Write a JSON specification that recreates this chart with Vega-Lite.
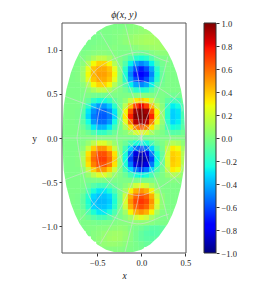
{"$schema":"https://vega.github.io/schema/vega-lite/v6.json","background":"white","padding":{"left":31,"top":9,"right":0,"bottom":0},"spacing":12,"config":{"view":{"stroke":null},"axis":{"labelFont":"Liberation Serif","titleFont":"Liberation Serif","labelFontSize":8.5,"titleFontSize":9.5,"titleFontWeight":"normal","labelColor":"#222","titleColor":"#222","tickColor":"#333","domain":false,"grid":false,"tickSize":3,"labelPadding":2}},"datasets":{"cells":[
{"x":-0.42,"y":1.26,"v":0.03},{"x":-0.36,"y":1.26,"v":0.03},{"x":-0.3,"y":1.26,"v":0.03},{"x":-0.24,"y":1.26,"v":0.03},{"x":-0.18,"y":1.26,"v":0.04},{"x":-0.12,"y":1.26,"v":0.05},{"x":-0.06,"y":1.26,"v":0.06},{"x":0,"y":1.26,"v":0.07},
{"x":-0.48,"y":1.2,"v":0.02},{"x":-0.42,"y":1.2,"v":0.03},{"x":-0.36,"y":1.2,"v":0.03},{"x":-0.3,"y":1.2,"v":0.04},{"x":-0.24,"y":1.2,"v":0.04},{"x":-0.18,"y":1.2,"v":0.05},{"x":-0.12,"y":1.2,"v":0.06},{"x":-0.06,"y":1.2,"v":0.07},{"x":0,"y":1.2,"v":0.08},{"x":0.06,"y":1.2,"v":0.09},{"x":0.12,"y":1.2,"v":0.09},
{"x":-0.54,"y":1.14,"v":0.02},{"x":-0.48,"y":1.14,"v":0.02},{"x":-0.42,"y":1.14,"v":0.03},{"x":-0.36,"y":1.14,"v":0.03},{"x":-0.3,"y":1.14,"v":0.04},{"x":-0.24,"y":1.14,"v":0.05},{"x":-0.18,"y":1.14,"v":0.06},{"x":-0.12,"y":1.14,"v":0.08},{"x":-0.06,"y":1.14,"v":0.1},{"x":0,"y":1.14,"v":0.11},{"x":0.06,"y":1.14,"v":0.12},{"x":0.12,"y":1.14,"v":0.12},{"x":0.18,"y":1.14,"v":0.11},
{"x":-0.6,"y":1.08,"v":0.02},{"x":-0.54,"y":1.08,"v":0.02},{"x":-0.48,"y":1.08,"v":0.03},{"x":-0.42,"y":1.08,"v":0.03},{"x":-0.36,"y":1.08,"v":0.03},{"x":-0.3,"y":1.08,"v":0.04},{"x":-0.24,"y":1.08,"v":0.05},{"x":-0.18,"y":1.08,"v":0.07},{"x":-0.12,"y":1.08,"v":0.09},{"x":-0.06,"y":1.08,"v":0.11},{"x":0,"y":1.08,"v":0.12},{"x":0.06,"y":1.08,"v":0.13},{"x":0.12,"y":1.08,"v":0.13},{"x":0.18,"y":1.08,"v":0.12},{"x":0.24,"y":1.08,"v":0.1},
{"x":-0.66,"y":1.02,"v":0.02},{"x":-0.6,"y":1.02,"v":0.02},{"x":-0.54,"y":1.02,"v":0.03},{"x":-0.48,"y":1.02,"v":0.04},{"x":-0.42,"y":1.02,"v":0.04},{"x":-0.36,"y":1.02,"v":0.04},{"x":-0.3,"y":1.02,"v":0.05},{"x":-0.24,"y":1.02,"v":0.04},{"x":-0.18,"y":1.02,"v":0.04},{"x":-0.12,"y":1.02,"v":0.05},{"x":-0.06,"y":1.02,"v":0.06},{"x":0,"y":1.02,"v":0.08},{"x":0.06,"y":1.02,"v":0.09},{"x":0.12,"y":1.02,"v":0.1},{"x":0.18,"y":1.02,"v":0.11},{"x":0.24,"y":1.02,"v":0.11},{"x":0.3,"y":1.02,"v":0.1},
{"x":-0.72,"y":0.96,"v":0.03},{"x":-0.66,"y":0.96,"v":0.03},{"x":-0.6,"y":0.96,"v":0.04},{"x":-0.54,"y":0.96,"v":0.05},{"x":-0.48,"y":0.96,"v":0.06},{"x":-0.42,"y":0.96,"v":0.06},{"x":-0.36,"y":0.96,"v":0.05},{"x":-0.3,"y":0.96,"v":0.04},{"x":-0.24,"y":0.96,"v":0.03},{"x":-0.18,"y":0.96,"v":0.03},{"x":-0.12,"y":0.96,"v":0.02},{"x":-0.06,"y":0.96,"v":0},{"x":0,"y":0.96,"v":-0.01},{"x":0.06,"y":0.96,"v":0.01},{"x":0.12,"y":0.96,"v":0.04},{"x":0.18,"y":0.96,"v":0.06},{"x":0.24,"y":0.96,"v":0.07},{"x":0.3,"y":0.96,"v":0.07},
{"x":-0.72,"y":0.9,"v":0.03},{"x":-0.66,"y":0.9,"v":0.04},{"x":-0.6,"y":0.9,"v":0.07},{"x":-0.54,"y":0.9,"v":0.13},{"x":-0.48,"y":0.9,"v":0.18},{"x":-0.42,"y":0.9,"v":0.18},{"x":-0.36,"y":0.9,"v":0.13},{"x":-0.3,"y":0.9,"v":0.07},{"x":-0.24,"y":0.9,"v":0.04},{"x":-0.18,"y":0.9,"v":0},{"x":-0.12,"y":0.9,"v":-0.07},{"x":-0.06,"y":0.9,"v":-0.17},{"x":0,"y":0.9,"v":-0.21},{"x":0.06,"y":0.9,"v":-0.17},{"x":0.12,"y":0.9,"v":-0.07},{"x":0.18,"y":0.9,"v":0},{"x":0.24,"y":0.9,"v":0.03},{"x":0.3,"y":0.9,"v":0.04},{"x":0.36,"y":0.9,"v":0.04},
{"x":-0.78,"y":0.84,"v":0.03},{"x":-0.72,"y":0.84,"v":0.03},{"x":-0.66,"y":0.84,"v":0.06},{"x":-0.6,"y":0.84,"v":0.15},{"x":-0.54,"y":0.84,"v":0.29},{"x":-0.48,"y":0.84,"v":0.39},{"x":-0.42,"y":0.84,"v":0.39},{"x":-0.36,"y":0.84,"v":0.29},{"x":-0.3,"y":0.84,"v":0.15},{"x":-0.24,"y":0.84,"v":0.04},{"x":-0.18,"y":0.84,"v":-0.07},{"x":-0.12,"y":0.84,"v":-0.27},{"x":-0.06,"y":0.84,"v":-0.48},{"x":0,"y":0.84,"v":-0.56},{"x":0.06,"y":0.84,"v":-0.48},{"x":0.12,"y":0.84,"v":-0.27},{"x":0.18,"y":0.84,"v":-0.07},{"x":0.24,"y":0.84,"v":0.01},{"x":0.3,"y":0.84,"v":0.03},{"x":0.36,"y":0.84,"v":0.03},
{"x":-0.78,"y":0.78,"v":0.03},{"x":-0.72,"y":0.78,"v":0.04},{"x":-0.66,"y":0.78,"v":0.1},{"x":-0.6,"y":0.78,"v":0.26},{"x":-0.54,"y":0.78,"v":0.43},{"x":-0.48,"y":0.78,"v":0.5},{"x":-0.42,"y":0.78,"v":0.5},{"x":-0.36,"y":0.78,"v":0.43},{"x":-0.3,"y":0.78,"v":0.26},{"x":-0.24,"y":0.78,"v":0.06},{"x":-0.18,"y":0.78,"v":-0.16},{"x":-0.12,"y":0.78,"v":-0.48},{"x":-0.06,"y":0.78,"v":-0.68},{"x":0,"y":0.78,"v":-0.74},{"x":0.06,"y":0.78,"v":-0.68},{"x":0.12,"y":0.78,"v":-0.48},{"x":0.18,"y":0.78,"v":-0.17},{"x":0.24,"y":0.78,"v":-0.01},{"x":0.3,"y":0.78,"v":0.03},{"x":0.36,"y":0.78,"v":0.03},{"x":0.42,"y":0.78,"v":0.03},
{"x":-0.78,"y":0.72,"v":0.03},{"x":-0.72,"y":0.72,"v":0.04},{"x":-0.66,"y":0.72,"v":0.11},{"x":-0.6,"y":0.72,"v":0.29},{"x":-0.54,"y":0.72,"v":0.47},{"x":-0.48,"y":0.72,"v":0.53},{"x":-0.42,"y":0.72,"v":0.53},{"x":-0.36,"y":0.72,"v":0.47},{"x":-0.3,"y":0.72,"v":0.29},{"x":-0.24,"y":0.72,"v":0.06},{"x":-0.18,"y":0.72,"v":-0.2},{"x":-0.12,"y":0.72,"v":-0.56},{"x":-0.06,"y":0.72,"v":-0.74},{"x":0,"y":0.72,"v":-0.77},{"x":0.06,"y":0.72,"v":-0.74},{"x":0.12,"y":0.72,"v":-0.56},{"x":0.18,"y":0.72,"v":-0.21},{"x":0.24,"y":0.72,"v":-0.02},{"x":0.3,"y":0.72,"v":0.03},{"x":0.36,"y":0.72,"v":0.03},{"x":0.42,"y":0.72,"v":0.03},
{"x":-0.84,"y":0.66,"v":0.03},{"x":-0.78,"y":0.66,"v":0.03},{"x":-0.72,"y":0.66,"v":0.04},{"x":-0.66,"y":0.66,"v":0.1},{"x":-0.6,"y":0.66,"v":0.26},{"x":-0.54,"y":0.66,"v":0.43},{"x":-0.48,"y":0.66,"v":0.5},{"x":-0.42,"y":0.66,"v":0.5},{"x":-0.36,"y":0.66,"v":0.43},{"x":-0.3,"y":0.66,"v":0.26},{"x":-0.24,"y":0.66,"v":0.06},{"x":-0.18,"y":0.66,"v":-0.16},{"x":-0.12,"y":0.66,"v":-0.48},{"x":-0.06,"y":0.66,"v":-0.68},{"x":0,"y":0.66,"v":-0.74},{"x":0.06,"y":0.66,"v":-0.68},{"x":0.12,"y":0.66,"v":-0.48},{"x":0.18,"y":0.66,"v":-0.17},{"x":0.24,"y":0.66,"v":-0.01},{"x":0.3,"y":0.66,"v":0.03},{"x":0.36,"y":0.66,"v":0.03},{"x":0.42,"y":0.66,"v":0.03},
{"x":-0.84,"y":0.6,"v":0.03},{"x":-0.78,"y":0.6,"v":0.03},{"x":-0.72,"y":0.6,"v":0.03},{"x":-0.66,"y":0.6,"v":0.06},{"x":-0.6,"y":0.6,"v":0.15},{"x":-0.54,"y":0.6,"v":0.29},{"x":-0.48,"y":0.6,"v":0.39},{"x":-0.42,"y":0.6,"v":0.39},{"x":-0.36,"y":0.6,"v":0.29},{"x":-0.3,"y":0.6,"v":0.15},{"x":-0.24,"y":0.6,"v":0.04},{"x":-0.18,"y":0.6,"v":-0.07},{"x":-0.12,"y":0.6,"v":-0.27},{"x":-0.06,"y":0.6,"v":-0.48},{"x":0,"y":0.6,"v":-0.56},{"x":0.06,"y":0.6,"v":-0.48},{"x":0.12,"y":0.6,"v":-0.27},{"x":0.18,"y":0.6,"v":-0.07},{"x":0.24,"y":0.6,"v":0.01},{"x":0.3,"y":0.6,"v":0.03},{"x":0.36,"y":0.6,"v":0.03},{"x":0.42,"y":0.6,"v":0.03},
{"x":-0.84,"y":0.54,"v":0.03},{"x":-0.78,"y":0.54,"v":0.03},{"x":-0.72,"y":0.54,"v":0.03},{"x":-0.66,"y":0.54,"v":0.04},{"x":-0.6,"y":0.54,"v":0.07},{"x":-0.54,"y":0.54,"v":0.13},{"x":-0.48,"y":0.54,"v":0.18},{"x":-0.42,"y":0.54,"v":0.18},{"x":-0.36,"y":0.54,"v":0.13},{"x":-0.3,"y":0.54,"v":0.07},{"x":-0.24,"y":0.54,"v":0.04},{"x":-0.18,"y":0.54,"v":0},{"x":-0.12,"y":0.54,"v":-0.07},{"x":-0.06,"y":0.54,"v":-0.17},{"x":0,"y":0.54,"v":-0.21},{"x":0.06,"y":0.54,"v":-0.17},{"x":0.12,"y":0.54,"v":-0.07},{"x":0.18,"y":0.54,"v":0},{"x":0.24,"y":0.54,"v":0.03},{"x":0.3,"y":0.54,"v":0.03},{"x":0.36,"y":0.54,"v":0.03},{"x":0.42,"y":0.54,"v":0.03},{"x":0.48,"y":0.54,"v":0.03},
{"x":-0.84,"y":0.48,"v":0.03},{"x":-0.78,"y":0.48,"v":0.03},{"x":-0.72,"y":0.48,"v":0.03},{"x":-0.66,"y":0.48,"v":0.03},{"x":-0.6,"y":0.48,"v":0.03},{"x":-0.54,"y":0.48,"v":0.01},{"x":-0.48,"y":0.48,"v":0},{"x":-0.42,"y":0.48,"v":0},{"x":-0.36,"y":0.48,"v":0.01},{"x":-0.3,"y":0.48,"v":0.03},{"x":-0.24,"y":0.48,"v":0.03},{"x":-0.18,"y":0.48,"v":0.03},{"x":-0.12,"y":0.48,"v":0.04},{"x":-0.06,"y":0.48,"v":0.05},{"x":0,"y":0.48,"v":0.06},{"x":0.06,"y":0.48,"v":0.05},{"x":0.12,"y":0.48,"v":0.04},{"x":0.18,"y":0.48,"v":0.03},{"x":0.24,"y":0.48,"v":0.03},{"x":0.3,"y":0.48,"v":0.01},{"x":0.36,"y":0.48,"v":0},{"x":0.42,"y":0.48,"v":0},{"x":0.48,"y":0.48,"v":0.02},
{"x":-0.9,"y":0.42,"v":0.03},{"x":-0.84,"y":0.42,"v":0.03},{"x":-0.78,"y":0.42,"v":0.03},{"x":-0.72,"y":0.42,"v":0.03},{"x":-0.66,"y":0.42,"v":0.02},{"x":-0.6,"y":0.42,"v":-0.03},{"x":-0.54,"y":0.42,"v":-0.14},{"x":-0.48,"y":0.42,"v":-0.22},{"x":-0.42,"y":0.42,"v":-0.22},{"x":-0.36,"y":0.42,"v":-0.14},{"x":-0.3,"y":0.42,"v":-0.03},{"x":-0.24,"y":0.42,"v":0.02},{"x":-0.18,"y":0.42,"v":0.08},{"x":-0.12,"y":0.42,"v":0.19},{"x":-0.06,"y":0.42,"v":0.33},{"x":0,"y":0.42,"v":0.4},{"x":0.06,"y":0.42,"v":0.33},{"x":0.12,"y":0.42,"v":0.19},{"x":0.18,"y":0.42,"v":0.08},{"x":0.24,"y":0.42,"v":0.03},{"x":0.3,"y":0.42,"v":-0.04},{"x":0.36,"y":0.42,"v":-0.11},{"x":0.42,"y":0.42,"v":-0.1},{"x":0.48,"y":0.42,"v":-0.01},
{"x":-0.9,"y":0.36,"v":0.03},{"x":-0.84,"y":0.36,"v":0.03},{"x":-0.78,"y":0.36,"v":0.03},{"x":-0.72,"y":0.36,"v":0.03},{"x":-0.66,"y":0.36,"v":-0.02},{"x":-0.6,"y":0.36,"v":-0.16},{"x":-0.54,"y":0.36,"v":-0.38},{"x":-0.48,"y":0.36,"v":-0.51},{"x":-0.42,"y":0.36,"v":-0.51},{"x":-0.36,"y":0.36,"v":-0.38},{"x":-0.3,"y":0.36,"v":-0.16},{"x":-0.24,"y":0.36,"v":0.01},{"x":-0.18,"y":0.36,"v":0.17},{"x":-0.12,"y":0.36,"v":0.45},{"x":-0.06,"y":0.36,"v":0.74},{"x":0,"y":0.36,"v":0.82},{"x":0.06,"y":0.36,"v":0.74},{"x":0.12,"y":0.36,"v":0.45},{"x":0.18,"y":0.36,"v":0.17},{"x":0.24,"y":0.36,"v":0.06},{"x":0.3,"y":0.36,"v":-0.13},{"x":0.36,"y":0.36,"v":-0.28},{"x":0.42,"y":0.36,"v":-0.24},{"x":0.48,"y":0.36,"v":-0.07},
{"x":-0.9,"y":0.3,"v":0.03},{"x":-0.84,"y":0.3,"v":0.03},{"x":-0.78,"y":0.3,"v":0.03},{"x":-0.72,"y":0.3,"v":0.02},{"x":-0.66,"y":0.3,"v":-0.06},{"x":-0.6,"y":0.3,"v":-0.29},{"x":-0.54,"y":0.3,"v":-0.54},{"x":-0.48,"y":0.3,"v":-0.64},{"x":-0.42,"y":0.3,"v":-0.64},{"x":-0.36,"y":0.3,"v":-0.54},{"x":-0.3,"y":0.3,"v":-0.29},{"x":-0.24,"y":0.3,"v":-0.01},{"x":-0.18,"y":0.3,"v":0.29},{"x":-0.12,"y":0.3,"v":0.7},{"x":-0.06,"y":0.3,"v":0.94},{"x":0,"y":0.3,"v":1},{"x":0.06,"y":0.3,"v":0.94},{"x":0.12,"y":0.3,"v":0.7},{"x":0.18,"y":0.3,"v":0.3},{"x":0.24,"y":0.3,"v":0.08},{"x":0.3,"y":0.3,"v":-0.16},{"x":0.36,"y":0.3,"v":-0.35},{"x":0.42,"y":0.3,"v":-0.3},{"x":0.48,"y":0.3,"v":-0.09},
{"x":-0.9,"y":0.24,"v":0.03},{"x":-0.84,"y":0.24,"v":0.03},{"x":-0.78,"y":0.24,"v":0.03},{"x":-0.72,"y":0.24,"v":0.02},{"x":-0.66,"y":0.24,"v":-0.08},{"x":-0.6,"y":0.24,"v":-0.33},{"x":-0.54,"y":0.24,"v":-0.59},{"x":-0.48,"y":0.24,"v":-0.66},{"x":-0.42,"y":0.24,"v":-0.66},{"x":-0.36,"y":0.24,"v":-0.59},{"x":-0.3,"y":0.24,"v":-0.33},{"x":-0.24,"y":0.24,"v":-0.02},{"x":-0.18,"y":0.24,"v":0.32},{"x":-0.12,"y":0.24,"v":0.77},{"x":-0.06,"y":0.24,"v":0.99},{"x":0,"y":0.24,"v":1},{"x":0.06,"y":0.24,"v":0.99},{"x":0.12,"y":0.24,"v":0.77},{"x":0.18,"y":0.24,"v":0.33},{"x":0.24,"y":0.24,"v":0.09},{"x":0.3,"y":0.24,"v":-0.17},{"x":0.36,"y":0.24,"v":-0.36},{"x":0.42,"y":0.24,"v":-0.31},{"x":0.48,"y":0.24,"v":-0.09},
{"x":-0.9,"y":0.18,"v":0.03},{"x":-0.84,"y":0.18,"v":0.03},{"x":-0.78,"y":0.18,"v":0.03},{"x":-0.72,"y":0.18,"v":0.02},{"x":-0.66,"y":0.18,"v":-0.05},{"x":-0.6,"y":0.18,"v":-0.25},{"x":-0.54,"y":0.18,"v":-0.51},{"x":-0.48,"y":0.18,"v":-0.61},{"x":-0.42,"y":0.18,"v":-0.61},{"x":-0.36,"y":0.18,"v":-0.51},{"x":-0.3,"y":0.18,"v":-0.25},{"x":-0.24,"y":0.18,"v":0},{"x":-0.18,"y":0.18,"v":0.26},{"x":-0.12,"y":0.18,"v":0.63},{"x":-0.06,"y":0.18,"v":0.9},{"x":0,"y":0.18,"v":0.96},{"x":0.06,"y":0.18,"v":0.9},{"x":0.12,"y":0.18,"v":0.63},{"x":0.18,"y":0.18,"v":0.27},{"x":0.24,"y":0.18,"v":0.08},{"x":0.3,"y":0.18,"v":-0.15},{"x":0.36,"y":0.18,"v":-0.33},{"x":0.42,"y":0.18,"v":-0.28},{"x":0.48,"y":0.18,"v":-0.08},
{"x":-0.9,"y":0.12,"v":0.03},{"x":-0.84,"y":0.12,"v":0.03},{"x":-0.78,"y":0.12,"v":0.03},{"x":-0.72,"y":0.12,"v":0.03},{"x":-0.66,"y":0.12,"v":-0.01},{"x":-0.6,"y":0.12,"v":-0.11},{"x":-0.54,"y":0.12,"v":-0.29},{"x":-0.48,"y":0.12,"v":-0.43},{"x":-0.42,"y":0.12,"v":-0.43},{"x":-0.36,"y":0.12,"v":-0.29},{"x":-0.3,"y":0.12,"v":-0.11},{"x":-0.24,"y":0.12,"v":0.01},{"x":-0.18,"y":0.12,"v":0.14},{"x":-0.12,"y":0.12,"v":0.35},{"x":-0.06,"y":0.12,"v":0.6},{"x":0,"y":0.12,"v":0.7},{"x":0.06,"y":0.12,"v":0.6},{"x":0.12,"y":0.12,"v":0.35},{"x":0.18,"y":0.12,"v":0.14},{"x":0.24,"y":0.12,"v":0.05},{"x":0.3,"y":0.12,"v":-0.1},{"x":0.36,"y":0.12,"v":-0.23},{"x":0.42,"y":0.12,"v":-0.19},{"x":0.48,"y":0.12,"v":-0.05},
{"x":-0.9,"y":0.06,"v":0.03},{"x":-0.84,"y":0.06,"v":0.03},{"x":-0.78,"y":0.06,"v":0.03},{"x":-0.72,"y":0.06,"v":0.03},{"x":-0.66,"y":0.06,"v":0.03},{"x":-0.6,"y":0.06,"v":-0.01},{"x":-0.54,"y":0.06,"v":-0.08},{"x":-0.48,"y":0.06,"v":-0.14},{"x":-0.42,"y":0.06,"v":-0.14},{"x":-0.36,"y":0.06,"v":-0.08},{"x":-0.3,"y":0.06,"v":-0.01},{"x":-0.24,"y":0.06,"v":0.03},{"x":-0.18,"y":0.06,"v":0.06},{"x":-0.12,"y":0.06,"v":0.13},{"x":-0.06,"y":0.06,"v":0.23},{"x":0,"y":0.06,"v":0.27},{"x":0.06,"y":0.06,"v":0.23},{"x":0.12,"y":0.06,"v":0.13},{"x":0.18,"y":0.06,"v":0.06},{"x":0.24,"y":0.06,"v":0.03},{"x":0.3,"y":0.06,"v":-0.02},{"x":0.36,"y":0.06,"v":-0.06},{"x":0.42,"y":0.06,"v":-0.05},{"x":0.48,"y":0.06,"v":0},
{"x":-0.9,"y":0,"v":0.03},{"x":-0.84,"y":0,"v":0.03},{"x":-0.78,"y":0,"v":0.03},{"x":-0.72,"y":0,"v":0.03},{"x":-0.66,"y":0,"v":0.03},{"x":-0.6,"y":0,"v":0.04},{"x":-0.54,"y":0,"v":0.04},{"x":-0.48,"y":0,"v":0.04},{"x":-0.42,"y":0,"v":0.04},{"x":-0.36,"y":0,"v":0.04},{"x":-0.3,"y":0,"v":0.04},{"x":-0.24,"y":0,"v":0.03},{"x":-0.18,"y":0,"v":0.03},{"x":-0.12,"y":0,"v":0.02},{"x":-0.06,"y":0,"v":0.01},{"x":0,"y":0,"v":0.01},{"x":0.06,"y":0,"v":0.01},{"x":0.12,"y":0,"v":0.02},{"x":0.18,"y":0,"v":0.03},{"x":0.24,"y":0,"v":0.03},{"x":0.3,"y":0,"v":0.03},{"x":0.36,"y":0,"v":0.04},{"x":0.42,"y":0,"v":0.04},{"x":0.48,"y":0,"v":0.03},
{"x":-0.9,"y":-0.06,"v":0.03},{"x":-0.84,"y":-0.06,"v":0.03},{"x":-0.78,"y":-0.06,"v":0.03},{"x":-0.72,"y":-0.06,"v":0.03},{"x":-0.66,"y":-0.06,"v":0.04},{"x":-0.6,"y":-0.06,"v":0.09},{"x":-0.54,"y":-0.06,"v":0.17},{"x":-0.48,"y":-0.06,"v":0.24},{"x":-0.42,"y":-0.06,"v":0.24},{"x":-0.36,"y":-0.06,"v":0.17},{"x":-0.3,"y":-0.06,"v":0.09},{"x":-0.24,"y":-0.06,"v":0.04},{"x":-0.18,"y":-0.06,"v":-0.01},{"x":-0.12,"y":-0.06,"v":-0.1},{"x":-0.06,"y":-0.06,"v":-0.21},{"x":0,"y":-0.06,"v":-0.26},{"x":0.06,"y":-0.06,"v":-0.21},{"x":0.12,"y":-0.06,"v":-0.1},{"x":0.18,"y":-0.06,"v":-0.01},{"x":0.24,"y":-0.06,"v":0.03},{"x":0.3,"y":-0.06,"v":0.09},{"x":0.36,"y":-0.06,"v":0.15},{"x":0.42,"y":-0.06,"v":0.13},{"x":0.48,"y":-0.06,"v":0.07},
{"x":-0.9,"y":-0.12,"v":0.03},{"x":-0.84,"y":-0.12,"v":0.03},{"x":-0.78,"y":-0.12,"v":0.03},{"x":-0.72,"y":-0.12,"v":0.03},{"x":-0.66,"y":-0.12,"v":0.07},{"x":-0.6,"y":-0.12,"v":0.2},{"x":-0.54,"y":-0.12,"v":0.4},{"x":-0.48,"y":-0.12,"v":0.55},{"x":-0.42,"y":-0.12,"v":0.55},{"x":-0.36,"y":-0.12,"v":0.4},{"x":-0.3,"y":-0.12,"v":0.2},{"x":-0.24,"y":-0.12,"v":0.05},{"x":-0.18,"y":-0.12,"v":-0.1},{"x":-0.12,"y":-0.12,"v":-0.33},{"x":-0.06,"y":-0.12,"v":-0.59},{"x":0,"y":-0.12,"v":-0.69},{"x":0.06,"y":-0.12,"v":-0.59},{"x":0.12,"y":-0.12,"v":-0.33},{"x":0.18,"y":-0.12,"v":-0.1},{"x":0.24,"y":-0.12,"v":0.01},{"x":0.3,"y":-0.12,"v":0.18},{"x":0.36,"y":-0.12,"v":0.32},{"x":0.42,"y":-0.12,"v":0.28},{"x":0.48,"y":-0.12,"v":0.12},
{"x":-0.9,"y":-0.18,"v":0.03},{"x":-0.84,"y":-0.18,"v":0.03},{"x":-0.78,"y":-0.18,"v":0.03},{"x":-0.72,"y":-0.18,"v":0.04},{"x":-0.66,"y":-0.18,"v":0.12},{"x":-0.6,"y":-0.18,"v":0.35},{"x":-0.54,"y":-0.18,"v":0.61},{"x":-0.48,"y":-0.18,"v":0.71},{"x":-0.42,"y":-0.18,"v":0.71},{"x":-0.36,"y":-0.18,"v":0.61},{"x":-0.3,"y":-0.18,"v":0.35},{"x":-0.24,"y":-0.18,"v":0.07},{"x":-0.18,"y":-0.18,"v":-0.2},{"x":-0.12,"y":-0.18,"v":-0.59},{"x":-0.06,"y":-0.18,"v":-0.83},{"x":0,"y":-0.18,"v":-0.9},{"x":0.06,"y":-0.18,"v":-0.83},{"x":0.12,"y":-0.18,"v":-0.59},{"x":0.18,"y":-0.18,"v":-0.21},{"x":0.24,"y":-0.18,"v":-0.02},{"x":0.3,"y":-0.18,"v":0.22},{"x":0.36,"y":-0.18,"v":0.4},{"x":0.42,"y":-0.18,"v":0.36},{"x":0.48,"y":-0.18,"v":0.15},
{"x":-0.9,"y":-0.24,"v":0.03},{"x":-0.84,"y":-0.24,"v":0.03},{"x":-0.78,"y":-0.24,"v":0.03},{"x":-0.72,"y":-0.24,"v":0.04},{"x":-0.66,"y":-0.24,"v":0.14},{"x":-0.6,"y":-0.24,"v":0.4},{"x":-0.54,"y":-0.24,"v":0.66},{"x":-0.48,"y":-0.24,"v":0.74},{"x":-0.42,"y":-0.24,"v":0.74},{"x":-0.36,"y":-0.24,"v":0.66},{"x":-0.3,"y":-0.24,"v":0.4},{"x":-0.24,"y":-0.24,"v":0.08},{"x":-0.18,"y":-0.24,"v":-0.25},{"x":-0.12,"y":-0.24,"v":-0.69},{"x":-0.06,"y":-0.24,"v":-0.9},{"x":0,"y":-0.24,"v":-0.94},{"x":0.06,"y":-0.24,"v":-0.9},{"x":0.12,"y":-0.24,"v":-0.69},{"x":0.18,"y":-0.24,"v":-0.26},{"x":0.24,"y":-0.24,"v":-0.03},{"x":0.3,"y":-0.24,"v":0.23},{"x":0.36,"y":-0.24,"v":0.42},{"x":0.42,"y":-0.24,"v":0.37},{"x":0.48,"y":-0.24,"v":0.15},
{"x":-0.9,"y":-0.3,"v":0.03},{"x":-0.84,"y":-0.3,"v":0.03},{"x":-0.78,"y":-0.3,"v":0.03},{"x":-0.72,"y":-0.3,"v":0.04},{"x":-0.66,"y":-0.3,"v":0.12},{"x":-0.6,"y":-0.3,"v":0.35},{"x":-0.54,"y":-0.3,"v":0.61},{"x":-0.48,"y":-0.3,"v":0.71},{"x":-0.42,"y":-0.3,"v":0.71},{"x":-0.36,"y":-0.3,"v":0.61},{"x":-0.3,"y":-0.3,"v":0.35},{"x":-0.24,"y":-0.3,"v":0.07},{"x":-0.18,"y":-0.3,"v":-0.2},{"x":-0.12,"y":-0.3,"v":-0.59},{"x":-0.06,"y":-0.3,"v":-0.83},{"x":0,"y":-0.3,"v":-0.9},{"x":0.06,"y":-0.3,"v":-0.83},{"x":0.12,"y":-0.3,"v":-0.59},{"x":0.18,"y":-0.3,"v":-0.21},{"x":0.24,"y":-0.3,"v":-0.02},{"x":0.3,"y":-0.3,"v":0.22},{"x":0.36,"y":-0.3,"v":0.4},{"x":0.42,"y":-0.3,"v":0.36},{"x":0.48,"y":-0.3,"v":0.15},
{"x":-0.9,"y":-0.36,"v":0.03},{"x":-0.84,"y":-0.36,"v":0.03},{"x":-0.78,"y":-0.36,"v":0.03},{"x":-0.72,"y":-0.36,"v":0.03},{"x":-0.66,"y":-0.36,"v":0.07},{"x":-0.6,"y":-0.36,"v":0.2},{"x":-0.54,"y":-0.36,"v":0.4},{"x":-0.48,"y":-0.36,"v":0.55},{"x":-0.42,"y":-0.36,"v":0.55},{"x":-0.36,"y":-0.36,"v":0.4},{"x":-0.3,"y":-0.36,"v":0.2},{"x":-0.24,"y":-0.36,"v":0.05},{"x":-0.18,"y":-0.36,"v":-0.1},{"x":-0.12,"y":-0.36,"v":-0.33},{"x":-0.06,"y":-0.36,"v":-0.59},{"x":0,"y":-0.36,"v":-0.69},{"x":0.06,"y":-0.36,"v":-0.59},{"x":0.12,"y":-0.36,"v":-0.33},{"x":0.18,"y":-0.36,"v":-0.1},{"x":0.24,"y":-0.36,"v":0.01},{"x":0.3,"y":-0.36,"v":0.18},{"x":0.36,"y":-0.36,"v":0.32},{"x":0.42,"y":-0.36,"v":0.28},{"x":0.48,"y":-0.36,"v":0.12},
{"x":-0.9,"y":-0.42,"v":0.03},{"x":-0.84,"y":-0.42,"v":0.03},{"x":-0.78,"y":-0.42,"v":0.03},{"x":-0.72,"y":-0.42,"v":0.03},{"x":-0.66,"y":-0.42,"v":0.04},{"x":-0.6,"y":-0.42,"v":0.09},{"x":-0.54,"y":-0.42,"v":0.17},{"x":-0.48,"y":-0.42,"v":0.24},{"x":-0.42,"y":-0.42,"v":0.24},{"x":-0.36,"y":-0.42,"v":0.17},{"x":-0.3,"y":-0.42,"v":0.09},{"x":-0.24,"y":-0.42,"v":0.04},{"x":-0.18,"y":-0.42,"v":-0.01},{"x":-0.12,"y":-0.42,"v":-0.1},{"x":-0.06,"y":-0.42,"v":-0.21},{"x":0,"y":-0.42,"v":-0.26},{"x":0.06,"y":-0.42,"v":-0.21},{"x":0.12,"y":-0.42,"v":-0.1},{"x":0.18,"y":-0.42,"v":-0.01},{"x":0.24,"y":-0.42,"v":0.03},{"x":0.3,"y":-0.42,"v":0.09},{"x":0.36,"y":-0.42,"v":0.15},{"x":0.42,"y":-0.42,"v":0.13},{"x":0.48,"y":-0.42,"v":0.07},
{"x":-0.84,"y":-0.48,"v":0.03},{"x":-0.78,"y":-0.48,"v":0.03},{"x":-0.72,"y":-0.48,"v":0.03},{"x":-0.66,"y":-0.48,"v":0.03},{"x":-0.6,"y":-0.48,"v":0.02},{"x":-0.54,"y":-0.48,"v":0.03},{"x":-0.48,"y":-0.48,"v":0.03},{"x":-0.42,"y":-0.48,"v":0.03},{"x":-0.36,"y":-0.48,"v":0.03},{"x":-0.3,"y":-0.48,"v":0.03},{"x":-0.24,"y":-0.48,"v":0.03},{"x":-0.18,"y":-0.48,"v":0.03},{"x":-0.12,"y":-0.48,"v":0.02},{"x":-0.06,"y":-0.48,"v":0.02},{"x":0,"y":-0.48,"v":0.02},{"x":0.06,"y":-0.48,"v":0.02},{"x":0.12,"y":-0.48,"v":0.02},{"x":0.18,"y":-0.48,"v":0.03},{"x":0.24,"y":-0.48,"v":0.03},{"x":0.3,"y":-0.48,"v":0.04},{"x":0.36,"y":-0.48,"v":0.05},{"x":0.42,"y":-0.48,"v":0.05},{"x":0.48,"y":-0.48,"v":0.04},
{"x":-0.84,"y":-0.54,"v":0.03},{"x":-0.78,"y":-0.54,"v":0.03},{"x":-0.72,"y":-0.54,"v":0.03},{"x":-0.66,"y":-0.54,"v":0.02},{"x":-0.6,"y":-0.54,"v":-0.01},{"x":-0.54,"y":-0.54,"v":-0.06},{"x":-0.48,"y":-0.54,"v":-0.1},{"x":-0.42,"y":-0.54,"v":-0.1},{"x":-0.36,"y":-0.54,"v":-0.06},{"x":-0.3,"y":-0.54,"v":-0.01},{"x":-0.24,"y":-0.54,"v":0.02},{"x":-0.18,"y":-0.54,"v":0.06},{"x":-0.12,"y":-0.54,"v":0.12},{"x":-0.06,"y":-0.54,"v":0.21},{"x":0,"y":-0.54,"v":0.25},{"x":0.06,"y":-0.54,"v":0.21},{"x":0.12,"y":-0.54,"v":0.12},{"x":0.18,"y":-0.54,"v":0.06},{"x":0.24,"y":-0.54,"v":0.03},{"x":0.3,"y":-0.54,"v":0.03},{"x":0.36,"y":-0.54,"v":0.03},{"x":0.42,"y":-0.54,"v":0.03},{"x":0.48,"y":-0.54,"v":0.03},
{"x":-0.84,"y":-0.6,"v":0.03},{"x":-0.78,"y":-0.6,"v":0.03},{"x":-0.72,"y":-0.6,"v":0.03},{"x":-0.66,"y":-0.6,"v":0.01},{"x":-0.6,"y":-0.6,"v":-0.08},{"x":-0.54,"y":-0.6,"v":-0.2},{"x":-0.48,"y":-0.6,"v":-0.29},{"x":-0.42,"y":-0.6,"v":-0.29},{"x":-0.36,"y":-0.6,"v":-0.2},{"x":-0.3,"y":-0.6,"v":-0.08},{"x":-0.24,"y":-0.6,"v":0.02},{"x":-0.18,"y":-0.6,"v":0.12},{"x":-0.12,"y":-0.6,"v":0.3},{"x":-0.06,"y":-0.6,"v":0.49},{"x":0,"y":-0.6,"v":0.56},{"x":0.06,"y":-0.6,"v":0.49},{"x":0.12,"y":-0.6,"v":0.3},{"x":0.18,"y":-0.6,"v":0.12},{"x":0.24,"y":-0.6,"v":0.04},{"x":0.3,"y":-0.6,"v":0.03},{"x":0.36,"y":-0.6,"v":0.03},{"x":0.42,"y":-0.6,"v":0.03},
{"x":-0.84,"y":-0.66,"v":0.03},{"x":-0.78,"y":-0.66,"v":0.03},{"x":-0.72,"y":-0.66,"v":0.02},{"x":-0.66,"y":-0.66,"v":-0.03},{"x":-0.6,"y":-0.66,"v":-0.17},{"x":-0.54,"y":-0.66,"v":-0.33},{"x":-0.48,"y":-0.66,"v":-0.39},{"x":-0.42,"y":-0.66,"v":-0.39},{"x":-0.36,"y":-0.66,"v":-0.33},{"x":-0.3,"y":-0.66,"v":-0.17},{"x":-0.24,"y":-0.66,"v":0.01},{"x":-0.18,"y":-0.66,"v":0.2},{"x":-0.12,"y":-0.66,"v":0.49},{"x":-0.06,"y":-0.66,"v":0.67},{"x":0,"y":-0.66,"v":0.72},{"x":0.06,"y":-0.66,"v":0.67},{"x":0.12,"y":-0.66,"v":0.49},{"x":0.18,"y":-0.66,"v":0.21},{"x":0.24,"y":-0.66,"v":0.07},{"x":0.3,"y":-0.66,"v":0.03},{"x":0.36,"y":-0.66,"v":0.03},{"x":0.42,"y":-0.66,"v":0.03},
{"x":-0.78,"y":-0.72,"v":0.03},{"x":-0.72,"y":-0.72,"v":0.02},{"x":-0.66,"y":-0.72,"v":-0.04},{"x":-0.6,"y":-0.72,"v":-0.2},{"x":-0.54,"y":-0.72,"v":-0.37},{"x":-0.48,"y":-0.72,"v":-0.42},{"x":-0.42,"y":-0.72,"v":-0.42},{"x":-0.36,"y":-0.72,"v":-0.37},{"x":-0.3,"y":-0.72,"v":-0.2},{"x":-0.24,"y":-0.72,"v":0},{"x":-0.18,"y":-0.72,"v":0.24},{"x":-0.12,"y":-0.72,"v":0.56},{"x":-0.06,"y":-0.72,"v":0.72},{"x":0,"y":-0.72,"v":0.75},{"x":0.06,"y":-0.72,"v":0.72},{"x":0.12,"y":-0.72,"v":0.56},{"x":0.18,"y":-0.72,"v":0.25},{"x":0.24,"y":-0.72,"v":0.07},{"x":0.3,"y":-0.72,"v":0.03},{"x":0.36,"y":-0.72,"v":0.03},{"x":0.42,"y":-0.72,"v":0.03},
{"x":-0.78,"y":-0.78,"v":0.03},{"x":-0.72,"y":-0.78,"v":0.02},{"x":-0.66,"y":-0.78,"v":-0.03},{"x":-0.6,"y":-0.78,"v":-0.17},{"x":-0.54,"y":-0.78,"v":-0.33},{"x":-0.48,"y":-0.78,"v":-0.39},{"x":-0.42,"y":-0.78,"v":-0.39},{"x":-0.36,"y":-0.78,"v":-0.33},{"x":-0.3,"y":-0.78,"v":-0.17},{"x":-0.24,"y":-0.78,"v":0.01},{"x":-0.18,"y":-0.78,"v":0.2},{"x":-0.12,"y":-0.78,"v":0.49},{"x":-0.06,"y":-0.78,"v":0.67},{"x":0,"y":-0.78,"v":0.72},{"x":0.06,"y":-0.78,"v":0.67},{"x":0.12,"y":-0.78,"v":0.49},{"x":0.18,"y":-0.78,"v":0.21},{"x":0.24,"y":-0.78,"v":0.07},{"x":0.3,"y":-0.78,"v":0.03},{"x":0.36,"y":-0.78,"v":0.03},{"x":0.42,"y":-0.78,"v":0.03},
{"x":-0.78,"y":-0.84,"v":0.03},{"x":-0.72,"y":-0.84,"v":0.03},{"x":-0.66,"y":-0.84,"v":0.01},{"x":-0.6,"y":-0.84,"v":-0.08},{"x":-0.54,"y":-0.84,"v":-0.2},{"x":-0.48,"y":-0.84,"v":-0.29},{"x":-0.42,"y":-0.84,"v":-0.29},{"x":-0.36,"y":-0.84,"v":-0.2},{"x":-0.3,"y":-0.84,"v":-0.08},{"x":-0.24,"y":-0.84,"v":0.02},{"x":-0.18,"y":-0.84,"v":0.12},{"x":-0.12,"y":-0.84,"v":0.3},{"x":-0.06,"y":-0.84,"v":0.49},{"x":0,"y":-0.84,"v":0.56},{"x":0.06,"y":-0.84,"v":0.49},{"x":0.12,"y":-0.84,"v":0.3},{"x":0.18,"y":-0.84,"v":0.12},{"x":0.24,"y":-0.84,"v":0.04},{"x":0.3,"y":-0.84,"v":0.03},{"x":0.36,"y":-0.84,"v":0.03},
{"x":-0.72,"y":-0.9,"v":0.03},{"x":-0.66,"y":-0.9,"v":0.02},{"x":-0.6,"y":-0.9,"v":-0.01},{"x":-0.54,"y":-0.9,"v":-0.06},{"x":-0.48,"y":-0.9,"v":-0.1},{"x":-0.42,"y":-0.9,"v":-0.1},{"x":-0.36,"y":-0.9,"v":-0.06},{"x":-0.3,"y":-0.9,"v":-0.01},{"x":-0.24,"y":-0.9,"v":0.02},{"x":-0.18,"y":-0.9,"v":0.06},{"x":-0.12,"y":-0.9,"v":0.12},{"x":-0.06,"y":-0.9,"v":0.21},{"x":0,"y":-0.9,"v":0.25},{"x":0.06,"y":-0.9,"v":0.21},{"x":0.12,"y":-0.9,"v":0.12},{"x":0.18,"y":-0.9,"v":0.06},{"x":0.24,"y":-0.9,"v":0.03},{"x":0.3,"y":-0.9,"v":0.03},{"x":0.36,"y":-0.9,"v":0.03},
{"x":-0.72,"y":-0.96,"v":0.03},{"x":-0.66,"y":-0.96,"v":0.03},{"x":-0.6,"y":-0.96,"v":0.03},{"x":-0.54,"y":-0.96,"v":0.02},{"x":-0.48,"y":-0.96,"v":0.01},{"x":-0.42,"y":-0.96,"v":0.02},{"x":-0.36,"y":-0.96,"v":0.02},{"x":-0.3,"y":-0.96,"v":0.04},{"x":-0.24,"y":-0.96,"v":0.05},{"x":-0.18,"y":-0.96,"v":0.05},{"x":-0.12,"y":-0.96,"v":0.06},{"x":-0.06,"y":-0.96,"v":0.07},{"x":0,"y":-0.96,"v":0.07},{"x":0.06,"y":-0.96,"v":0.07},{"x":0.12,"y":-0.96,"v":0.05},{"x":0.18,"y":-0.96,"v":0.03},{"x":0.24,"y":-0.96,"v":0.03},{"x":0.3,"y":-0.96,"v":0.03},
{"x":-0.66,"y":-1.02,"v":0.03},{"x":-0.6,"y":-1.02,"v":0.04},{"x":-0.54,"y":-1.02,"v":0.04},{"x":-0.48,"y":-1.02,"v":0.05},{"x":-0.42,"y":-1.02,"v":0.05},{"x":-0.36,"y":-1.02,"v":0.06},{"x":-0.3,"y":-1.02,"v":0.07},{"x":-0.24,"y":-1.02,"v":0.08},{"x":-0.18,"y":-1.02,"v":0.07},{"x":-0.12,"y":-1.02,"v":0.04},{"x":-0.06,"y":-1.02,"v":0.02},{"x":0,"y":-1.02,"v":0},{"x":0.06,"y":-1.02,"v":-0.03},{"x":0.12,"y":-1.02,"v":-0.05},{"x":0.18,"y":-1.02,"v":-0.05},{"x":0.24,"y":-1.02,"v":-0.03},{"x":0.3,"y":-1.02,"v":0},
{"x":-0.6,"y":-1.08,"v":0.03},{"x":-0.54,"y":-1.08,"v":0.05},{"x":-0.48,"y":-1.08,"v":0.06},{"x":-0.42,"y":-1.08,"v":0.08},{"x":-0.36,"y":-1.08,"v":0.1},{"x":-0.3,"y":-1.08,"v":0.11},{"x":-0.24,"y":-1.08,"v":0.11},{"x":-0.18,"y":-1.08,"v":0.09},{"x":-0.12,"y":-1.08,"v":0.05},{"x":-0.06,"y":-1.08,"v":0.01},{"x":0,"y":-1.08,"v":-0.03},{"x":0.06,"y":-1.08,"v":-0.06},{"x":0.12,"y":-1.08,"v":-0.07},{"x":0.18,"y":-1.08,"v":-0.06},{"x":0.24,"y":-1.08,"v":-0.04},
{"x":-0.54,"y":-1.14,"v":0.05},{"x":-0.48,"y":-1.14,"v":0.07},{"x":-0.42,"y":-1.14,"v":0.09},{"x":-0.36,"y":-1.14,"v":0.11},{"x":-0.3,"y":-1.14,"v":0.12},{"x":-0.24,"y":-1.14,"v":0.11},{"x":-0.18,"y":-1.14,"v":0.08},{"x":-0.12,"y":-1.14,"v":0.05},{"x":-0.06,"y":-1.14,"v":0.01},{"x":0,"y":-1.14,"v":-0.03},{"x":0.06,"y":-1.14,"v":-0.05},{"x":0.12,"y":-1.14,"v":-0.05},{"x":0.18,"y":-1.14,"v":-0.04},
{"x":-0.48,"y":-1.2,"v":0.06},{"x":-0.42,"y":-1.2,"v":0.08},{"x":-0.36,"y":-1.2,"v":0.09},{"x":-0.3,"y":-1.2,"v":0.09},{"x":-0.24,"y":-1.2,"v":0.08},{"x":-0.18,"y":-1.2,"v":0.06},{"x":-0.12,"y":-1.2,"v":0.04},{"x":-0.06,"y":-1.2,"v":0.02},{"x":0,"y":-1.2,"v":0},{"x":0.06,"y":-1.2,"v":-0.02},{"x":0.12,"y":-1.2,"v":-0.03},
{"x":-0.42,"y":-1.26,"v":0.05},{"x":-0.36,"y":-1.26,"v":0.05},{"x":-0.3,"y":-1.26,"v":0.05},{"x":-0.24,"y":-1.26,"v":0.05},{"x":-0.18,"y":-1.26,"v":0.04},{"x":-0.12,"y":-1.26,"v":0.03},{"x":-0.06,"y":-1.26,"v":0.02},{"x":0,"y":-1.26,"v":0.01}
],"lines":[
{"l":"h","o":0,"x":-0.9,"y":0},{"l":"h","o":1,"x":0.5,"y":0},
{"l":"a","o":0,"x":0,"y":0},{"l":"a","o":1,"x":0.01,"y":0.25},{"l":"a","o":2,"x":-0.03,"y":0.65},{"l":"a","o":3,"x":-0.1,"y":0.95},{"l":"a","o":4,"x":-0.185,"y":1.29},
{"l":"b","o":0,"x":0,"y":0},{"l":"b","o":1,"x":-0.015,"y":0.12},{"l":"b","o":2,"x":-0.09,"y":0.46},{"l":"b","o":3,"x":-0.24,"y":0.8},{"l":"b","o":4,"x":-0.47,"y":1.2},
{"l":"c","o":0,"x":0,"y":0},{"l":"c","o":1,"x":-0.05,"y":0.09},{"l":"c","o":2,"x":-0.28,"y":0.39},{"l":"c","o":3,"x":-0.51,"y":0.71},{"l":"c","o":4,"x":-0.7,"y":0.93},
{"l":"d","o":0,"x":0,"y":0},{"l":"d","o":1,"x":-0.07,"y":0.05},{"l":"d","o":2,"x":-0.28,"y":0.24},{"l":"d","o":3,"x":-0.49,"y":0.33},{"l":"d","o":4,"x":-0.89,"y":0.48},
{"l":"e","o":0,"x":0,"y":0},{"l":"e","o":1,"x":0.07,"y":0.25},{"l":"e","o":2,"x":0.21,"y":0.58},{"l":"e","o":3,"x":0.3,"y":0.92},
{"l":"f","o":0,"x":0,"y":0},{"l":"f","o":1,"x":0.15,"y":0.2},{"l":"f","o":2,"x":0.44,"y":0.52},
{"l":"r1","o":0,"x":-0.15,"y":0.05},{"l":"r1","o":1,"x":0,"y":0.16},{"l":"r1","o":2,"x":0.14,"y":0.05},
{"l":"r2","o":0,"x":-0.28,"y":0},{"l":"r2","o":1,"x":-0.2,"y":0.31},{"l":"r2","o":2,"x":0,"y":0.41},{"l":"r2","o":3,"x":0.21,"y":0.31},{"l":"r2","o":4,"x":0.33,"y":0},
{"l":"r3","o":0,"x":-0.51,"y":0},{"l":"r3","o":1,"x":-0.43,"y":0.43},{"l":"r3","o":2,"x":-0.03,"y":0.65},{"l":"r3","o":3,"x":0.4,"y":0.43},{"l":"r3","o":4,"x":0.46,"y":0.3},
{"l":"r4","o":0,"x":-0.73,"y":0},{"l":"r4","o":1,"x":-0.62,"y":0.58},{"l":"r4","o":2,"x":-0.45,"y":0.82},{"l":"r4","o":3,"x":-0.05,"y":0.97},{"l":"r4","o":4,"x":0.25,"y":0.88},{"l":"r4","o":5,"x":0.315,"y":0.86},
{"l":"A","o":0,"x":0,"y":0},{"l":"A","o":1,"x":0.01,"y":-0.25},{"l":"A","o":2,"x":-0.03,"y":-0.65},{"l":"A","o":3,"x":-0.1,"y":-0.95},{"l":"A","o":4,"x":-0.185,"y":-1.29},
{"l":"B","o":0,"x":0,"y":0},{"l":"B","o":1,"x":-0.015,"y":-0.12},{"l":"B","o":2,"x":-0.09,"y":-0.46},{"l":"B","o":3,"x":-0.24,"y":-0.8},{"l":"B","o":4,"x":-0.47,"y":-1.2},
{"l":"C","o":0,"x":0,"y":0},{"l":"C","o":1,"x":-0.05,"y":-0.09},{"l":"C","o":2,"x":-0.28,"y":-0.39},{"l":"C","o":3,"x":-0.51,"y":-0.71},{"l":"C","o":4,"x":-0.7,"y":-0.93},
{"l":"D","o":0,"x":0,"y":0},{"l":"D","o":1,"x":-0.07,"y":-0.05},{"l":"D","o":2,"x":-0.28,"y":-0.24},{"l":"D","o":3,"x":-0.49,"y":-0.33},{"l":"D","o":4,"x":-0.89,"y":-0.48},
{"l":"E","o":0,"x":0,"y":0},{"l":"E","o":1,"x":0.07,"y":-0.25},{"l":"E","o":2,"x":0.21,"y":-0.58},{"l":"E","o":3,"x":0.3,"y":-0.92},
{"l":"F","o":0,"x":0,"y":0},{"l":"F","o":1,"x":0.15,"y":-0.2},{"l":"F","o":2,"x":0.44,"y":-0.52},
{"l":"R1","o":0,"x":-0.15,"y":-0.05},{"l":"R1","o":1,"x":0,"y":-0.16},{"l":"R1","o":2,"x":0.14,"y":-0.05},
{"l":"R2","o":0,"x":-0.28,"y":0},{"l":"R2","o":1,"x":-0.2,"y":-0.31},{"l":"R2","o":2,"x":0,"y":-0.41},{"l":"R2","o":3,"x":0.21,"y":-0.31},{"l":"R2","o":4,"x":0.33,"y":0},
{"l":"R3","o":0,"x":-0.51,"y":0},{"l":"R3","o":1,"x":-0.43,"y":-0.43},{"l":"R3","o":2,"x":-0.03,"y":-0.65},{"l":"R3","o":3,"x":0.4,"y":-0.43},{"l":"R3","o":4,"x":0.46,"y":-0.3},
{"l":"R4","o":0,"x":-0.73,"y":0},{"l":"R4","o":1,"x":-0.62,"y":-0.58},{"l":"R4","o":2,"x":-0.45,"y":-0.82},{"l":"R4","o":3,"x":-0.05,"y":-0.97},{"l":"R4","o":4,"x":0.25,"y":-0.88},{"l":"R4","o":5,"x":0.315,"y":-0.86}
],"edge":[
{"x":-0.9,"u":0,"l":0},{"x":-0.88,"u":0.367,"l":-0.367},{"x":-0.85,"u":0.549,"l":-0.549},{"x":-0.8,"u":0.738,"l":-0.738},{"x":-0.75,"u":0.869,"l":-0.869},{"x":-0.7,"u":0.968,"l":-0.968},{"x":-0.6,"u":1.111,"l":-1.111},{"x":-0.5,"u":1.204,"l":-1.204},{"x":-0.4,"u":1.262,"l":-1.262},{"x":-0.3,"u":1.292,"l":-1.292},{"x":-0.2,"u":1.3,"l":-1.3},{"x":-0.1,"u":1.292,"l":-1.292},{"x":0,"u":1.262,"l":-1.262},{"x":0.1,"u":1.204,"l":-1.204},{"x":0.2,"u":1.111,"l":-1.111},{"x":0.3,"u":0.968,"l":-0.968},{"x":0.35,"u":0.869,"l":-0.869},{"x":0.4,"u":0.738,"l":-0.738},{"x":0.45,"u":0.549,"l":-0.549},{"x":0.48,"u":0.367,"l":-0.367},{"x":0.5,"u":0,"l":0},{"x":0.507,"u":0,"l":0}
]},
"hconcat":[
{"width":124,"height":230,"title":{"text":"ϕ(x, y)","font":"Liberation Serif","fontSize":10,"fontStyle":"italic","fontWeight":"normal","color":"#222","offset":3},
"layer":[
{"data":{"name":"cells"},"mark":{"type":"rect","width":5.7,"height":5.7,"clip":true},"encoding":{
"x":{"field":"x","type":"quantitative","scale":{"domain":[-0.9,0.507],"nice":false,"zero":false},"axis":{"values":[-0.5,0,0.5],"format":".1f","title":"x","titleFontStyle":"italic","titlePadding":4,"labelFlush":false}},
"y":{"field":"y","type":"quantitative","scale":{"domain":[-1.3,1.3],"nice":false,"zero":false},"axis":{"values":[-1,-0.5,0,0.5,1],"format":".1f","title":"y","titleAngle":0,"titleAlign":"right","titleBaseline":"middle","titlePadding":5}},
"color":{"field":"v","type":"quantitative","legend":null,"scale":{"domain":[-1,-0.78,-0.75,-0.32,-0.3,-0.25,0.28,0.3,0.32,0.78,0.82,1],"range":["#00007f","#0000ff","#0000ff","#00dbff","#00e5f7","#14ffe2","#eeff0c","#f7f600","#ffec00","#ff1300","#e80000","#7f0000"]}}}},
{"data":{"name":"lines"},"mark":{"type":"line","interpolate":"cardinal","color":"#dcdcdc","opacity":0.75,"strokeWidth":0.8,"clip":true},"encoding":{
"x":{"field":"x","type":"quantitative"},"y":{"field":"y","type":"quantitative"},"detail":{"field":"l"},"order":{"field":"o"}}},
{"data":{"name":"edge"},"mark":{"type":"area","color":"white","clip":true},"encoding":{"x":{"field":"x","type":"quantitative"},"y":{"field":"u","type":"quantitative"},"y2":{"datum":1.3}}},
{"data":{"name":"edge"},"mark":{"type":"area","color":"white","clip":true},"encoding":{"x":{"field":"x","type":"quantitative"},"y":{"field":"l","type":"quantitative"},"y2":{"datum":-1.3}}},
{"data":{"values":[{"x0":-0.9,"x1":0.507,"y0":-1.3,"y1":1.3}]},"mark":{"type":"rect","fillOpacity":0,"stroke":"#555","strokeWidth":1},"encoding":{"x":{"field":"x0","type":"quantitative"},"x2":{"field":"x1"},"y":{"field":"y0","type":"quantitative"},"y2":{"field":"y1"}}}
]},
{"width":12,"height":230,"data":{"values":[{"lo":-1,"hi":1}]},"mark":{"type":"rect","stroke":"#333","strokeWidth":1,"fill":{"gradient":"linear","x1":0,"y1":1,"x2":0,"y2":0,"stops":[{"offset":0,"color":"#00007f"},{"offset":0.11,"color":"#0000ff"},{"offset":0.125,"color":"#0000ff"},{"offset":0.34,"color":"#00dbff"},{"offset":0.35,"color":"#00e5f7"},{"offset":0.375,"color":"#14ffe2"},{"offset":0.64,"color":"#eeff0c"},{"offset":0.65,"color":"#f7f600"},{"offset":0.66,"color":"#ffec00"},{"offset":0.89,"color":"#ff1300"},{"offset":0.91,"color":"#e80000"},{"offset":1,"color":"#7f0000"}]}},"encoding":{
"y":{"field":"lo","type":"quantitative","scale":{"domain":[-1,1],"nice":false,"zero":false},"axis":{"orient":"right","values":[-1,-0.8,-0.6,-0.4,-0.2,0,0.2,0.4,0.6,0.8,1],"format":".1f","title":null}},
"y2":{"field":"hi"}}}
]}
